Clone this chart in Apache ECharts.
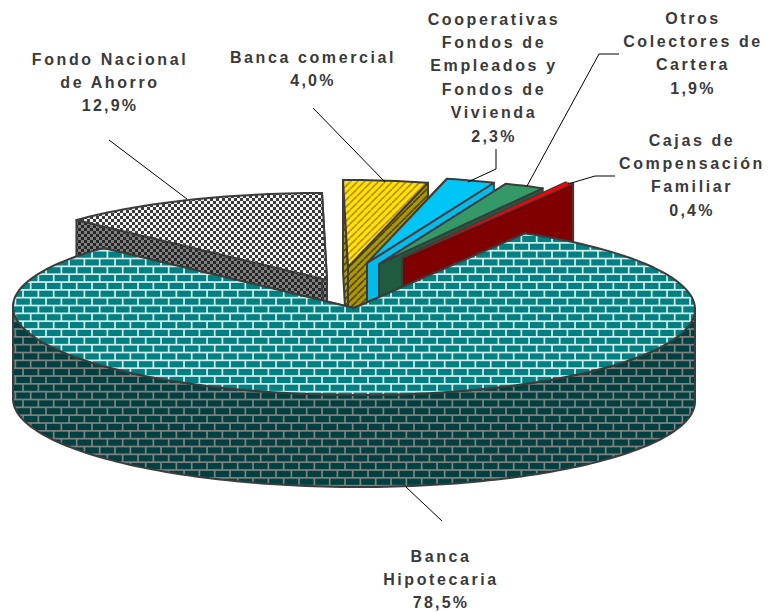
<!DOCTYPE html>
<html>
<head>
<meta charset="utf-8">
<title>Cartera hipotecaria</title>
<script src="https://cdn.jsdelivr.net/npm/echarts@6/dist/echarts.min.js"></script>
<style>
    html,body{margin:0;padding:0;background:#fff;}
    #main{width:771px;height:612px;}
</style>
</head>
<body>
<div id="main"></div>
<script>
var sliceNames = ['Fondo Nacional\nde Ahorro','Banca comercial','Cooperativas\nFondos de\nEmpleados y\nFondos de\nVivienda','Otros\nColectores de\nCartera','Cajas de\nCompensación\nFamiliar','Banca\nHipotecaria'];
var sliceValues = [12.9,4.0,2.3,1.9,0.4,78.5];
var startAngle = -46.44; //Fondo Nacional ends at 12 o'clock

//pie geometry
var rx = 341, ry = 87, skew = 5, depth = 92;
var cx = 354, cy = 308;
//explosion of every slice from the pie centre
var explode = [[-27,-28],[-6,-41],[13,-45],[25,-44],[48,-50],[0,0]];
var labelPos = [[110,59],[313,57],[494,19],[693,18],[692,140],[441,556]];
var lineHeight = 23.4;
var leaders = [
    [[109,140],[187,199]],
    [[313,108],[385,182]],
    [[496,149],[496,169],[468,182]],
    [[619,54],[599,54],[527,186]],
    [[615,176],[595,176],[568,184]],
    [[406,487],[442,521]]
];

function tile(w,h,draw){
    var c = document.createElement('canvas');
    c.width = w;c.height = h;
    draw(c.getContext('2d'));
    return {image:c,repeat:'repeat'};
}
function bricks(mortar,brick){
    return tile(46,47,function(ctx){
        ctx.fillStyle = mortar;ctx.fillRect(0,0,46,47);
        ctx.fillStyle = brick;
        for(var r=0;r<6;r++){
            for(var i=-1;i<3;i++){
                var x = i*15.33+(r%2?7.67:0)+0.9;
                ctx.fillRect(x,r*7.83+0.9,13.6,6.1);
            }
        }
    });
}
function checker(back,dot){
    return tile(6,6,function(ctx){
        ctx.fillStyle = back;ctx.fillRect(0,0,6,6);
        ctx.fillStyle = dot;
        ctx.fillRect(0,0,3,3);ctx.fillRect(3,3,3,3);
    });
}
function stripes(back,line){
    return tile(7,7,function(ctx){
        ctx.fillStyle = back;ctx.fillRect(0,0,7,7);
        ctx.strokeStyle = line;ctx.lineWidth = 1.7;
        for(var i=-7;i<=14;i+=7){
            ctx.beginPath();ctx.moveTo(i,7);ctx.lineTo(i+7,0);ctx.stroke();
        }
    });
}
var topFill = [checker('#f4f4f4','#3a3a3a'),stripes('#ffe600','#c08a10'),'#00c6f6','#339966','#ff0000',bricks('#d4ecec','#008080')];
var wallFill = [checker('#808080','#262626'),stripes('#a89a00','#5c4200'),'#00bcec','#1f5c3d','#800000',bricks('#808080','#004040')];
var outline = '#3c3c3c';

function rim(o,deg){
    var a = deg*Math.PI/180;
    return [o[0]+rx*Math.sin(a)-skew*Math.cos(a),o[1]-ry*Math.cos(a)];
}
function down(p){
    return [p[0],p[1]+depth];
}
function poly(points,fill,width){
    return {type:'polygon',shape:{points:points},style:{fill:fill,stroke:outline,lineWidth:width||2,lineJoin:'round'}};
}
function sliceAngles(index){
    var start = startAngle;
    for(var i=0;i<index;i++){
        start += sliceValues[i]*3.6;
    }
    return [start,start+sliceValues[index]*3.6];
}
function renderSlice(params,api){
    var i = params.dataIndex;
    var value = api.value(0);
    var a = sliceAngles(i);
    var end = a[0]+value*3.6;
    var o = [cx+explode[i][0],cy+explode[i][1]];
    var arc = [],k;
    for(k=a[0];k<end;k+=1.5){
        arc.push(rim(o,k));
    }
    arc.push(rim(o,end));
    var children = [];
    //side walls first, the top face goes over them
    children.push(poly([o,arc[0],down(arc[0]),down(o)],wallFill[i]));
    children.push(poly([o,arc[arc.length-1],down(arc[arc.length-1]),down(o)],wallFill[i]));
    var front = [];
    for(k=Math.max(a[0],90);k<=Math.min(end,270);k+=1.5){
        front.push(rim(o,k));
    }
    if(front.length>1){
        children.push(poly(front.concat(front.map(down).reverse()),wallFill[i]));
    }
    //the thinnest slice would vanish under a full outline
    children.push(poly([o].concat(arc),topFill[i],value<1?0.6:2));
    return {type:'group',children:children};
}
function renderLabel(params,api){
    var i = params.dataIndex;
    var pct = api.value(0).toFixed(1).replace('.',',')+'%';
    var lines = leaders[i];
    return {type:'group',children:[
        {type:'polyline',shape:{points:lines},style:{fill:'none',stroke:'#000',lineWidth:1}},
        {type:'text',style:{
            x:labelPos[i][0],
            y:labelPos[i][1]-lineHeight/2,
            text:sliceNames[i]+'\n'+pct,
            align:'center',
            verticalAlign:'top',
            lineHeight:lineHeight,
            fill:'#3a3a3a',
            font:'bold 16px "Liberation Sans"'
        }}
    ]};
}

var myChart = echarts.init(document.getElementById('main'),null,{renderer:'svg'});
var option = {
    animation:false,
    backgroundColor:'#fff',
    series:[
        {type:'custom',coordinateSystem:'none',silent:true,renderItem:renderSlice,data:sliceValues},
        {type:'custom',coordinateSystem:'none',silent:true,renderItem:renderLabel,data:sliceValues}
    ]
};
myChart.setOption(option);

//echarts has no letter spacing, the svg text takes it from css
document.querySelectorAll('#main text').forEach(function(t){
    t.style.letterSpacing = /%/.test(t.textContent) ? '2.2px' : '2.6px';
});
</script>
</body>
</html>
